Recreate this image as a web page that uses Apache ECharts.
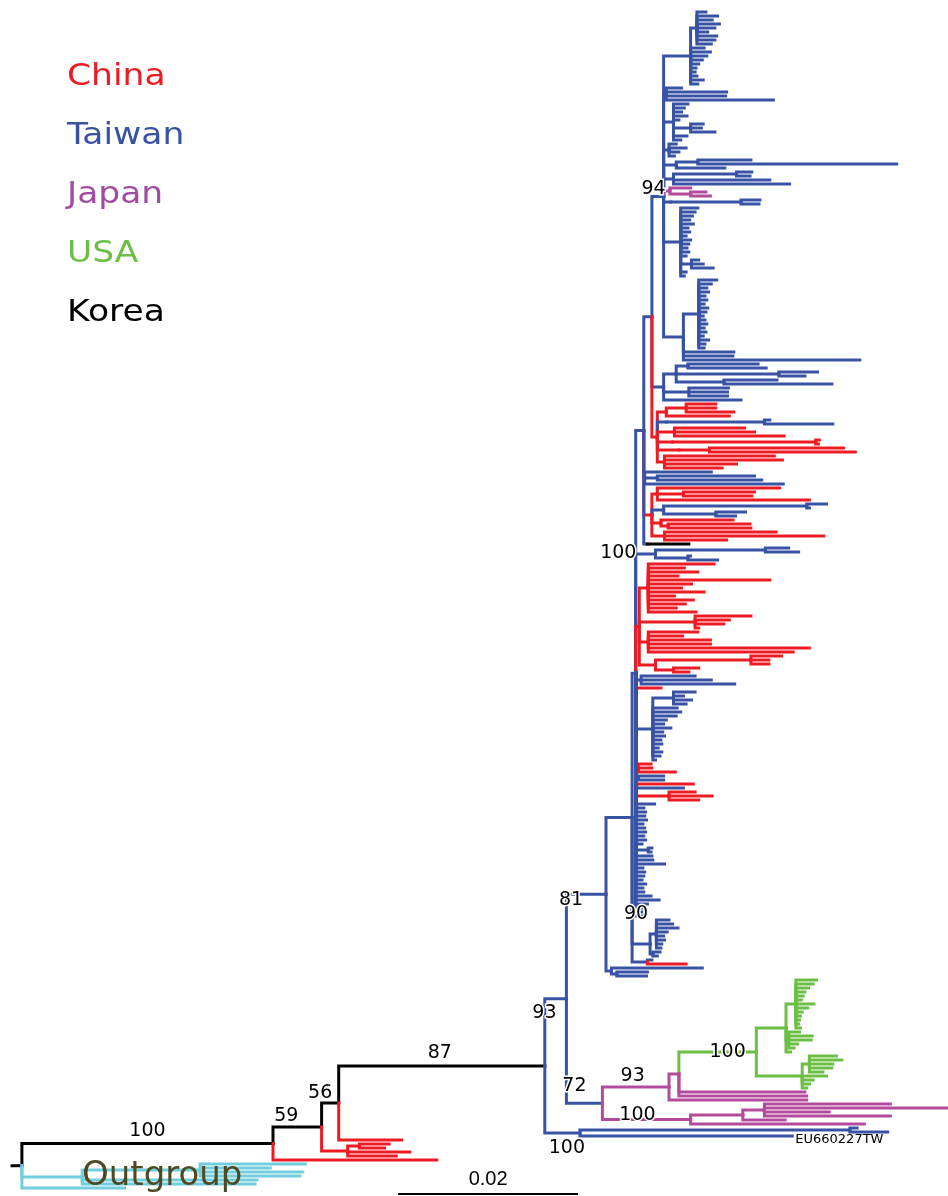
<!DOCTYPE html>
<html><head><meta charset="utf-8">
<script src="https://cdn.jsdelivr.net/npm/echarts/dist/echarts.min.js"></script>
<style>html,body{margin:0;padding:0;background:#fff;}#main{width:948px;height:1196px;}</style>
</head><body><div id="main"></div>
<script>
// Branch lengths in units of 0.001 substitutions/site.
// Node: number = leaf (branch length); array = [branchLength, tokens..., children...]
// tokens: region colour code ('r' China, 'b' Taiwan, 'm' Japan, 'g' USA, 'k' Korea/backbone, 'c' outgroup), '#id' node name

const legendNames = ['China', 'Taiwan', 'Japan', 'USA', 'Korea'];
const scaleBarLength = 20; // = 0.02 substitutions/site
const scaleBarLabel = '0.02';

// outgroup
const outgroupClade = [6.7, 'c', [13.1, 11.7, 7.8, 11.4, 11.1], 19.4, 19.2];
const outgroupLeaf = [11.4, 'c'];

// basal Chinese lineages
const cnBasalA = [18.2, 'r'];
const cnBasalB = [2.9, 'r', [1.3, 3.3, 2.8], 6.9, 5.4];
const cnBasalC = [7.0, 'r'];

// Japan / USA
const usaUpper = [3.3, [1.1, 2.3, 1.9, 1.4, 1.0, 0.8, 0.6, 2.0, 1.3, 0.7, 0.5, 0.4, 0.3, 0.5], [0.3, 1.2, 2.6, 2.5, 1.0, 0.6], 0.5];
const usaLower = [5.1, [0.8, 3.0, 3.6, 2.6, 2.5, 1.5], 2.7, 1.2, 0.8, 0.5];
const usaClade = [8.6, 'g', '#s100g', usaUpper, usaLower];
const japanA = [7.4, 'm', '#s93b', [1.1, usaClade, 14.0, 14.2], 15.3];
const japanB = [9.8, 'm', '#s100m', [5.8, [2.4, 14.0, 20.3, 7.2, 14.0], 4.7], 19.3];
const twBasal = [3.9, 'b', '#s100b', [30.0, 0.8, 4.2], [23.6, '#eu']];

// Taiwan / China main clade
const twTop = [3.0, [0.7, 1.0, 2.3, 1.7, 2.5, 2.0, 1.2, 2.2, 2.0, 1.6], 1.5, 2.2, 1.8, 1.3, 0.9, 0.6, 0.5, 0.7, 1.4, 0.8];
const twB = [0.3, 1.7, 6.7, 6.6, 11.9];
const twC = [1.1, 1.6, 1.2, 0.9, 1.5, 0.6, [1.9, 1.4, 1.2, 2.7], 1.5, 0.8];
const twD = [0.6, 0.8, 1.9, 1.1, 0.6];
const twE1 = [1.4, [2.4, 5.9, 22.1], 5.4];
const twE2 = [1.1, [7.0, 1.7, 1.5], 10.7, 12.9];
const jpE3 = [0.7, 'm', 2.3, [2.3, 1.7, 2.2]];
const twE4 = [0.8, [7.8, 2.1, 2.0]];
const twF = [1.9, 1.9, 1.6, 1.3, 1.0, 1.4, 0.8, 1.0, 0.6, 1.1, 0.9, 0.7, 0.9, 0.6, [1.2, 0.8, 1.3, 2.4], 0.6, 0.4];
const twH = [2.2, [1.7, 2.0, 1.4, 0.9, 1.1, 0.7, 0.9, 0.6, 1.0, 0.8, 0.5, 0.7, 0.9, 0.6, 0.8, 0.5, 1.1, 0.7, 0.6], 5.6, 5.5, 19.6];
const clade94 = [1.3, '#s94', twTop, twB, twC, twD, twE1, twE2, jpE3, twE4, twF, twH];
const twI = [1.3, [1.4, [1.3, 7.8, 8.7], [11.4, 4.3, 2.9], [5.3, 5.9, 12.0]], [2.8, 4.4, 4.3, 4.3], 8.6];
const cnJ1 = [0.6, 'r', [1.0, [2.2, 3.3, 3.3, 5.3], 7.0], [1.0, 'b', [10.9, 0.6, 7.6]], [1.9, 7.8, 8.9, 12.2], [1.7, [15.9, 0.4, 0.3]], [2.4, [3.4, 14.9, 16.2]], [0.8, 12.2, 13.1, 8.0, 6.4]];
const twJ = [0.1, 'b', 7.4, [1.4, 10.8, 11.6], 15.4];
const cnJ2 = [0.9, 'r', [0.6, 13.6, [2.9, 7.9, 7.6], 16.9], [1.3, 'b', [15.9, 2.2, 0.3], [5.8, 3.3, 2.2]], [1.0, 8.0, [0.8, 9.1, 9.2]], [1.4, 12.4, 17.7, 6.9]];
const korea = [0.4, [4.6, 'k']];
const up653 = [0.9, clade94, twI, cnJ1];
const up645 = [0.9, up653, twJ, cnJ2, korea];
const twK1 = [2.2, 'b', [12.2, 2.6, 3.7], [3.6, 0.3, 3.3]];
const cnK = [0.4, 'r', '#s100k', [1.0, 7.3, 4.0, 5.5, 3.3, 13.5, 4.8, 3.7, 6.2, 2.9, 5.0, 4.1, 3.1, 5.3], [6.2, 6.2, 3.8, 3.2, 0.4], [1.0, 5.5, 3.8, 6.9, 6.9, 17.9, 16.1], [1.8, [10.6, 3.4, 2.0, 2.0], [2.0, 2.8, 1.7]]];
const twK2 = [0.6, 'b', 6.0, 7.8, 10.4];
const cnK3 = [2.8, 'r'];
const twM = [1.9, 'b', [2.3, 2.4, 1.1, 2.0, 1.4], 2.7, 3.1, 2.6, 1.5, 1.2, 2.0, 1.1, 1.3, 0.9, 1.0, 0.6, 1.0, 0.8, 0.3];
const mixN = [[0.3, 'r', 1.4, 1.5, 4.1], [0.3, 'b', 2.8, 2.8], [6.4, 'r'], [5.3, 'b'], [3.7, 'r', 2.9, 4.8, 3.3]];
const twO = [2.1, 0.9, 1.1, 1.0, 1.2, 0.8, 1.0, 1.1, 0.9, 1.1, 0.7, [1.4, 0.4, 0.3], 1.8, 1.9, 3.2, 0.8, 1.0, 0.9, 0.7, 1.1, 0.8, 0.9, 1.7, 2.6, 1.3, 0.9, 0.7, 1.0];
const upper = [0.4, up645, twK1, cnK, twK2, cnK3, twM].concat(mixN, twO);
const clade90 = [2.0, '#s90', [0.7, 1.4, 1.8, 2.4, 1.2, 0.8, 0.9, 0.6, 0.5], [0.3, 0.8, 0.5]];
const twBox = [1.7, 0.5, [4.3, 'r']];
const bigClade = [2.9, upper, clade90, twBox];
const bottom81 = [0.6, 10.1, [0.6, 3.4, 3.3]];
const node81 = [4.4, '#s81', bigClade, bottom81];
const node72 = [4.0, '#s72', japanA, japanB];
const nodeA = [2.4, 'b', '#s93a', node81, node72];
const mainClade = [22.9, '#s87', nodeA, twBasal];
const node87p = [1.9, '#s56', mainClade, cnBasalC];
const node56 = [5.4, '#s59', node87p, cnBasalB];
const ingroup = [27.9, 'k', '#s100a', node56, cnBasalA];
const tree = [1.1, 'k', ingroup, outgroupClade, outgroupLeaf];

// bootstrap support values
const supportNodes = ['s100a', 's59', 's56', 's87', 's93a', 's81', 's72', 's93b', 's100m', 's100g', 's100b', 's94', 's100k', 's90'];
const supportValues = ['100', '59', '56', '87', '93', '81', '72', '93', '100', '100', '100', '94', '100', '90'];
const tipLabelNodes = ['eu'];
const tipLabels = ['EU660227TW'];

// ---------- styles ----------
const colorKeys = ['r', 'b', 'm', 'g', 'k', 'c'];
const colorVals = ['#ED1C24', '#3953A4', '#B34B9D', '#6CBE45', '#000000', '#72CDDE'];
const legendColors = ['#ED1C24', '#3953A4', '#A24BA3', '#6CBE45', '#000000'];
const labelPlace = {
  s100a: ['branch', 0, -12], s59: ['branch', -11, -11], s56: ['branch', -10, -10], s87: ['branch', -2, -13],
  s93a: ['node', -22, 14], s81: ['node', -35, 6], s72: ['branch', -10, -17], s93b: ['branch', -3, -11],
  s100m: ['branch', -9, -4], s100g: ['branch', 10, 0], s100b: ['node', -13, 15], s94: ['node', -10, -7],
  s100k: ['node', -21, -73], s90: ['node', -14, -30]
};

// ---------- build ----------
function parse(node, color) {
  if (typeof node === 'number') return {len: node, color: color, id: null, children: []};
  const n = {len: node[0], color: color, id: null, children: []};
  const kids = [];
  for (let i = 1; i < node.length; i++) {
    const t = node[i];
    if (typeof t === 'string') { if (t[0] === '#') n.id = t.slice(1); else n.color = t; }
    else kids.push(t);
  }
  n.children = kids.map(k => parse(k, n.color));
  return n;
}
const root = parse(tree, 'k');
let leafCount = 0;
const byId = {};
function layout(n, px) {
  n.px = px; n.x = px + n.len;
  if (n.id) byId[n.id] = n;
  if (!n.children.length) n.y = leafCount++;
  else { n.children.forEach(c => layout(c, n.x)); n.y = (n.children[0].y + n.children[n.children.length - 1].y) / 2; }
}
layout(root, 0);
const segs = [];
function walk(n, parentY) {
  segs.push([n.px, parentY, n.x, n.y, colorKeys.indexOf(n.color)]);
  n.children.forEach(c => walk(c, n.y));
}
walk(root, root.y);

const labelData = supportNodes.map((id, i) => { const n = byId[id]; return [n.x, n.y, n.px, i]; });
const tipData = tipLabelNodes.map((id, i) => { const n = byId[id]; return [n.x, n.y, i]; });

const chart = echarts.init(document.getElementById('main'), null, {renderer: 'canvas'});
const FONT = '"DejaVu Sans", sans-serif';
chart.setOption({
  animation: false,
  backgroundColor: '#fff',
  grid: {left: 12, right: 0, top: 12, bottom: 8},
  xAxis: {type: 'value', min: 0, max: 104, show: false},
  yAxis: {type: 'value', min: 0, max: leafCount - 1, inverse: true, show: false},
  graphic: legendNames.map((t, i) => ({
    type: 'text', x: 67, y: 77 + i * 59, scaleX: 1.15, z: 100,
    style: {text: t, fill: legendColors[i], font: '30px ' + FONT, verticalAlign: 'middle', align: 'left'}
  })).concat([{
    type: 'text', x: 82, y: 1176, z: 100,
    style: {text: 'Outgroup', fill: '#4D4A22', font: '34px ' + FONT, verticalAlign: 'middle', align: 'left'}
  }]),
  series: [
    {
      type: 'custom', coordinateSystem: 'cartesian2d', data: segs, silent: true,
      encode: {x: [0, 2], y: [1, 3]},
      renderItem: function (params, api) {
        const p = api.coord([api.value(0), api.value(1)]);
        const c = api.coord([api.value(2), api.value(3)]);
        return {type: 'polyline', shape: {points: [p, [p[0], c[1]], c]},
          style: {stroke: colorVals[api.value(4)], lineWidth: 3, fill: null, lineCap: 'square', lineJoin: 'miter'}};
      }
    },
    {
      type: 'custom', coordinateSystem: 'cartesian2d', data: labelData, silent: true, z: 5,
      encode: {x: 0, y: 1},
      renderItem: function (params, api) {
        const i = api.value(3);
        const pl = labelPlace[supportNodes[i]];
        const n = api.coord([api.value(0), api.value(1)]);
        const pp = api.coord([api.value(2), api.value(1)]);
        const x = pl[0] === 'branch' ? (n[0] + pp[0]) / 2 : n[0];
        return {type: 'text', x: x + pl[1], y: n[1] + pl[2],
          style: {text: supportValues[i], fill: '#000', font: '19px ' + FONT, align: 'center', verticalAlign: 'middle', stroke: '#fff', lineWidth: 3}};
      }
    },
    {
      type: 'custom', coordinateSystem: 'cartesian2d', data: tipData, silent: true, z: 5,
      encode: {x: 0, y: 1},
      renderItem: function (params, api) {
        const n = api.coord([api.value(0), api.value(1)]);
        return {type: 'text', x: n[0] + 3, y: n[1] + 4,
          style: {text: tipLabels[api.value(2)], fill: '#000', font: '13px ' + FONT, align: 'left', verticalAlign: 'middle'}};
      }
    },
    {
      type: 'custom', coordinateSystem: 'cartesian2d', data: [[42.9, scaleBarLength]], silent: true,
      encode: {x: 0},
      renderItem: function (params, api) {
        const a = api.coord([api.value(0), leafCount - 1]);
        const b = api.coord([api.value(0) + api.value(1), leafCount - 1]);
        const y = a[1] + 6;
        return {type: 'group', children: [
          {type: 'line', shape: {x1: a[0], y1: y, x2: b[0], y2: y}, style: {stroke: '#000', lineWidth: 2}},
          {type: 'text', x: (a[0] + b[0]) / 2, y: y - 15,
            style: {text: scaleBarLabel, fill: '#000', font: '20px "Liberation Sans", sans-serif', align: 'center', verticalAlign: 'middle'}}
        ]};
      }
    }
  ]
});
</script></body></html>
